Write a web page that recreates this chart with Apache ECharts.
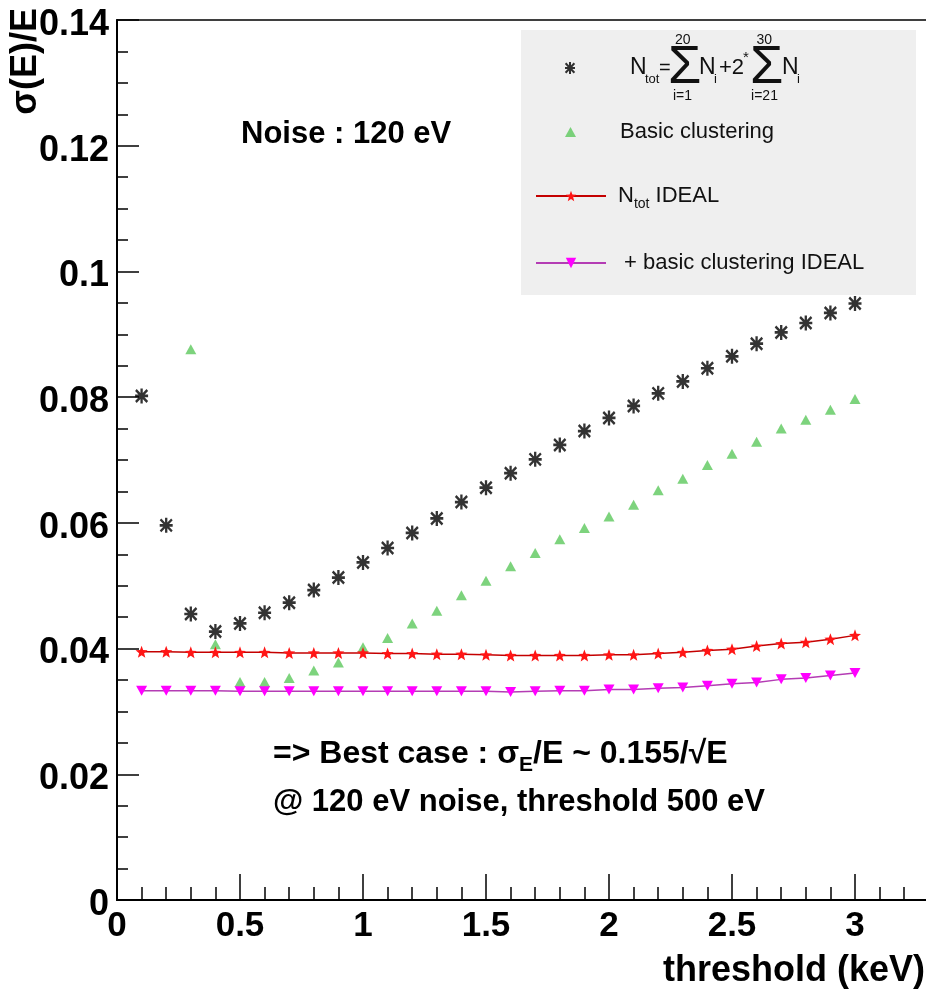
<!DOCTYPE html>
<html>
<head>
<meta charset="utf-8">
<script src="https://cdn.jsdelivr.net/npm/echarts@6/dist/echarts.min.js"></script>
<style>
html,body{margin:0;padding:0;background:#fff;}
#chart{width:926px;height:991px;}
</style>
</head>
<body>
<div id="chart"></div>
<script>
// ---------------- data ----------------
const thresholds = [0.1,0.2,0.3,0.4,0.5,0.6,0.7,0.8,0.9,1.0,1.1,1.2,1.3,1.4,1.5,1.6,1.7,1.8,1.9,2.0,2.1,2.2,2.3,2.4,2.5,2.6,2.7,2.8,2.9,3.0];
const ntotSum = [0.0802,0.0596,0.0455,0.0427,0.0440,0.0457,0.0473,0.0493,0.0513,0.0537,0.0560,0.0584,0.0607,0.0633,0.0656,0.0679,0.0701,0.0724,0.0746,0.0767,0.0786,0.0806,0.0825,0.0846,0.0865,0.0885,0.0903,0.0918,0.0934,0.0949];
const basicClustering = [null,null,0.0876,0.0407,0.0347,0.0347,0.0353,0.0365,0.0378,0.0402,0.0417,0.0440,0.0460,0.0485,0.0508,0.0531,0.0552,0.0574,0.0592,0.0610,0.0629,0.0652,0.0670,0.0692,0.0710,0.0729,0.0750,0.0764,0.0780,0.0797];
const ntotIdeal = [0.0395,0.0395,0.0394,0.0394,0.0394,0.0394,0.0393,0.0393,0.0393,0.0393,0.0392,0.0392,0.0391,0.0391,0.0390,0.0389,0.0389,0.0389,0.0389,0.0390,0.0390,0.0392,0.0394,0.0397,0.0399,0.0404,0.0408,0.0410,0.0415,0.0421];
const basicClusteringIdeal = [0.0333,0.0333,0.0333,0.0333,0.0332,0.0332,0.0332,0.0332,0.0332,0.0332,0.0332,0.0332,0.0332,0.0332,0.0332,0.0331,0.0332,0.0333,0.0333,0.0335,0.0335,0.0337,0.0338,0.0341,0.0344,0.0346,0.0351,0.0353,0.0357,0.0361];
const seriesNames = ['Ntot sum', 'Basic clustering', 'Ntot IDEAL', '+ basic clustering IDEAL'];
const yAxisTitle = 'σ(E)/E';
const xAxisTitle = 'threshold (keV)';
const noiseText = 'Noise : 120 eV';
const bestCaseLine2 = '@ 120 eV noise, threshold 500 eV';

// ---------------- helpers ----------------
function pairs(xs, ys) {
  return xs.map((x, i) => [x, ys[i]]).filter(p => p[1] !== null);
}
function starPath() {
  let d = '';
  for (let i = 0; i < 10; i++) {
    const r = i % 2 ? 0.42 : 1;
    const a = -Math.PI / 2 + i * Math.PI / 5;
    d += (i ? 'L' : 'M') + (r * Math.cos(a)).toFixed(3) + ',' + (r * Math.sin(a)).toFixed(3);
  }
  return 'path://' + d + 'Z';
}
const asteriskSym = 'path://M5,0L5,12M0,6L10,6M0.6,1.2L9.4,10.8M9.4,1.2L0.6,10.8';
const triDownSym = 'path://M0,0L10,0L5,9Z';
const FF = 'Liberation Sans';

const base = { fontFamily: FF, color: '#111' };
function st(o) { return Object.assign({}, base, o); }
const richA = {
  a1:  st({ fontSize: 13, lineHeight: 20, width: 94 }),
  a2:  st({ fontSize: 13, lineHeight: 20, width: 66 }),
  b1:  st({ fontSize: 13, lineHeight: 20, width: 92 }),
  b2:  st({ fontSize: 13, lineHeight: 20, width: 59 }),
  lim: st({ fontSize: 14, lineHeight: 20 }),
  g:   st({ fontSize: 22, lineHeight: 36, width: 49 }),
  n:   st({ fontSize: 23, lineHeight: 36, width: 15 }),
  sb:  st({ fontSize: 13, lineHeight: 20, width: 14, verticalAlign: 'bottom' }),
  eq:  st({ fontSize: 20, lineHeight: 36, width: 9 }),
  sg:  st({ fontSize: 54, lineHeight: 36, width: 31 }),
  si:  st({ fontSize: 13, lineHeight: 20, width: 5, verticalAlign: 'bottom' }),
  p:   st({ fontSize: 22, lineHeight: 36, width: 24 }),
  sp:  st({ fontSize: 15, lineHeight: 26, width: 7, verticalAlign: 'top' }),
  sg2: st({ fontSize: 54, lineHeight: 36, width: 32 })
};
const richSimple = {
  g:  st({ fontSize: 22, lineHeight: 30, width: 39 }),
  g2: st({ fontSize: 22, lineHeight: 30, width: 7 }),
  g3: st({ fontSize: 22, lineHeight: 30, width: 13 }),
  t:  st({ fontSize: 22, lineHeight: 30 }),
  n:  st({ fontSize: 22, lineHeight: 30 }),
  sb: st({ fontSize: 14, lineHeight: 9, verticalAlign: 'bottom' })
};

const legendCommon = {
  orient: 'vertical', left: 535, padding: 0, itemWidth: 70, selectedMode: false,
  textStyle: st({ fontSize: 22 })
};

const chart = echarts.init(document.getElementById('chart'), null, { renderer: 'canvas' });
chart.setOption({
  animation: false,
  backgroundColor: '#ffffff',
  grid: {
    left: 117, top: 20, right: -52, bottom: 91,
    show: true, borderColor: '#000', borderWidth: 1.5, backgroundColor: 'transparent',
    containLabel: false, outerBoundsMode: 'none'
  },
  xAxis: {
    type: 'value', min: 0, max: 3.5, interval: 0.5,
    axisLine: { show: true, onZero: false, lineStyle: { color: '#000', width: 2 } },
    axisTick: { show: true, inside: true, length: 26, lineStyle: { color: '#000', width: 1.5 } },
    minorTick: { show: true, splitNumber: 5, length: 13, lineStyle: { color: '#000', width: 1.5 } },
    splitLine: { show: false }, minorSplitLine: { show: false },
    axisLabel: {
      margin: 9, fontFamily: FF, fontWeight: 'bold', fontSize: 35, color: '#000',
      showMaxLabel: false, hideOverlap: false,
      formatter: v => String(+v.toFixed(2))
    },
    name: xAxisTitle, nameLocation: 'end', nameGap: -53,
    nameTextStyle: { align: 'right', verticalAlign: 'top', fontFamily: FF, fontWeight: 'bold', fontSize: 36, color: '#000', padding: [53, 0, 0, 0] }
  },
  yAxis: {
    type: 'value', min: 0, max: 0.14, interval: 0.02,
    axisLine: { show: true, onZero: false, lineStyle: { color: '#000', width: 2 } },
    axisTick: { show: true, inside: true, length: 22, lineStyle: { color: '#000', width: 1.5 } },
    minorTick: { show: true, splitNumber: 4, length: 11, lineStyle: { color: '#000', width: 1.5 } },
    splitLine: { show: false }, minorSplitLine: { show: false },
    axisLabel: {
      margin: 8, fontFamily: FF, fontWeight: 'bold', fontSize: 36, color: '#000',
      verticalAlign: 'top', lineHeight: 10, hideOverlap: false,
      formatter: v => String(+v.toFixed(2))
    }
  },
  legend: [
    Object.assign({}, legendCommon, {
      top: 33, left: 564, itemWidth: 12, itemHeight: 12, data: [seriesNames[0]],
      formatter: () => '{a1| }{lim|20}{a2| }{lim|30}\n' +
        '{g| }{n|N}{sb|tot}{eq|=}{sg|Σ}{n|N}{si|i}{p|+2}{sp|*}{sg2|Σ}{n|N}{si|i}\n' +
        '{b1| }{lim|i=1}{b2| }{lim|i=21}',
      textStyle: st({ fontSize: 22, rich: richA })
    }),
    Object.assign({}, legendCommon, {
      top: 121, left: 565, itemWidth: 11, itemHeight: 10, data: [seriesNames[1]],
      formatter: () => '{g| }{t|Basic clustering}',
      textStyle: st({ fontSize: 22, rich: richSimple })
    }),
    Object.assign({}, legendCommon, {
      top: 185, itemHeight: 13, data: [seriesNames[2]],
      formatter: () => '{g2| }{n|N}{sb|tot}{t| IDEAL}',
      textStyle: st({ fontSize: 22, rich: richSimple })
    }),
    Object.assign({}, legendCommon, {
      top: 252, itemHeight: 13, data: [seriesNames[3]],
      formatter: () => '{g3| }{t|+ basic clustering IDEAL}',
      textStyle: st({ fontSize: 22, rich: richSimple })
    })
  ],
  graphic: [
    { type: 'rect', z: 0, silent: true, shape: { x: 521, y: 30, width: 395, height: 265 }, style: { fill: '#efefef' } },
    { type: 'text', z: 10, x: 26, y: 8, rotation: Math.PI / 2,
      style: { text: yAxisTitle, fontFamily: FF, fontWeight: 'bold', fontSize: 36, fill: '#000', align: 'right', verticalAlign: 'middle' } },
    { type: 'text', z: 10, x: 241, y: 134,
      style: { text: noiseText, fontFamily: FF, fontWeight: 'bold', fontSize: 31, fill: '#000', align: 'left', verticalAlign: 'middle' } },
    { type: 'text', z: 10, x: 273, y: 732,
      style: {
        text: '{b|=> Best case : σ}{s|E}{b|/E ~ 0.155/√E}',
        align: 'left', verticalAlign: 'top', fill: '#000',
        rich: {
          b: { fontFamily: FF, fontWeight: 'bold', fontSize: 32, lineHeight: 44, fill: '#000' },
          s: { fontFamily: FF, fontWeight: 'bold', fontSize: 21, lineHeight: 12, verticalAlign: 'bottom', fill: '#000' }
        }
      } },
    { type: 'text', z: 10, x: 273, y: 802,
      style: { text: bestCaseLine2, fontFamily: FF, fontWeight: 'bold', fontSize: 31, fill: '#000', align: 'left', verticalAlign: 'middle' } }
  ],
  series: [
    {
      name: seriesNames[0], type: 'scatter', z: 5,
      data: pairs(thresholds, ntotSum),
      symbol: asteriskSym, symbolSize: [13, 15],
      itemStyle: { color: 'rgba(0,0,0,0)', borderColor: '#000', borderWidth: 2.5 },
      emphasis: { disabled: true }
    },
    {
      name: seriesNames[1], type: 'scatter', z: 3,
      data: pairs(thresholds, basicClustering),
      symbol: 'triangle', symbolSize: [11, 10],
      itemStyle: { color: '#5cc85c' },
      emphasis: { disabled: true }
    },
    {
      name: seriesNames[2], type: 'line', z: 4,
      data: pairs(thresholds, ntotIdeal),
      symbol: starPath(), symbolSize: 12, showSymbol: true, showAllSymbol: true,
      lineStyle: { color: '#c40000', width: 1.5 },
      itemStyle: { color: '#ff1515' },
      emphasis: { disabled: true }
    },
    {
      name: seriesNames[3], type: 'line', z: 4,
      data: pairs(thresholds, basicClusteringIdeal),
      symbol: triDownSym, symbolSize: [11, 10], showSymbol: true, showAllSymbol: true,
      lineStyle: { color: '#b43cb4', width: 1.5 },
      itemStyle: { color: '#ff00ff' },
      emphasis: { disabled: true }
    }
  ]
});
</script>
</body>
</html>
